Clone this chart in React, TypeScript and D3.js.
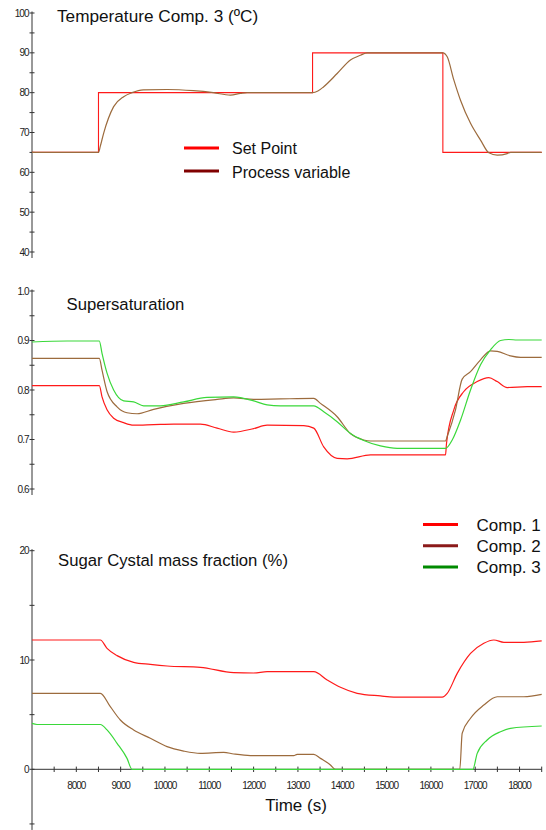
import * as d3 from "d3";

// --- data ---
const spTime = [7000, 8500, 8500, 13330, 13330, 16270, 16270, 18500];
const spValue = [65, 65, 80, 80, 90, 90, 65, 65];

const pvTime = [7000, 8500, 8540, 8616, 8842, 9068, 9257, 9512, 10047, 10641, 11093, 11476, 11702, 11853, 13330, 13450, 13582, 13885, 14185, 14411, 14562, 16270, 16368, 16517, 16668, 16894, 17120, 17307, 17497, 17723, 17797, 18500];
const pvValue = [65, 65, 66.5, 69.8, 76.5, 79, 80, 80.7, 80.8, 80.5, 80, 79.4, 79.8, 80, 80, 80.4, 81.5, 84.8, 88.2, 89.4, 90, 90, 89, 83.2, 78.1, 72.3, 68.1, 64.9, 64.3, 64.7, 65, 65];

const ss1Time = [7000, 8519, 8580, 8693, 8842, 9068, 9293, 9745, 10196, 10799, 11176, 11551, 12002, 12305, 13131, 13357, 13582, 13885, 14111, 14637, 15388, 16330, 16352, 16517, 16743, 17045, 17307, 17497, 17723, 18174, 18500];
const ss1Value = [0.809, 0.809, 0.786, 0.76, 0.743, 0.734, 0.729, 0.73, 0.731, 0.731, 0.723, 0.715, 0.722, 0.729, 0.728, 0.723, 0.685, 0.662, 0.661, 0.669, 0.669, 0.669, 0.692, 0.76, 0.797, 0.817, 0.825, 0.817, 0.805, 0.807, 0.807];

const ss2Time = [7000, 8519, 8580, 8693, 8919, 9144, 9370, 9745, 10422, 11176, 11551, 12002, 12605, 13357, 13508, 13885, 14185, 14485, 14637, 16330, 16368, 16555, 16706, 16894, 17120, 17345, 17497, 17797, 18023, 18500];
const ss2Value = [0.864, 0.864, 0.84, 0.797, 0.766, 0.754, 0.752, 0.761, 0.773, 0.781, 0.784, 0.781, 0.782, 0.783, 0.773, 0.746, 0.712, 0.699, 0.697, 0.697, 0.706, 0.76, 0.822, 0.837, 0.861, 0.879, 0.878, 0.869, 0.866, 0.866];

const ss3Time = [7000, 7790, 8519, 8580, 8693, 8842, 9068, 9293, 9519, 9896, 10422, 10950, 11551, 12002, 12305, 12605, 13357, 13582, 13885, 14185, 14485, 14862, 15239, 16330, 16481, 16668, 16894, 17120, 17345, 17571, 17760, 17948, 18500];
const ss3Value = [0.897, 0.899, 0.899, 0.874, 0.834, 0.8, 0.778, 0.776, 0.768, 0.768, 0.776, 0.785, 0.786, 0.778, 0.77, 0.768, 0.768, 0.756, 0.736, 0.712, 0.698, 0.687, 0.682, 0.682, 0.699, 0.739, 0.8, 0.851, 0.881, 0.9, 0.902, 0.901, 0.901];

const mf1Time = [7000, 8542, 8693, 8919, 9293, 9670, 10047, 10799, 11551, 12002, 12305, 13357, 13659, 13959, 14336, 14862, 15162, 16255, 16368, 16594, 16894, 17194, 17420, 17646, 18097, 18500];
const mf1Value = [11.83, 11.83, 11.07, 10.4, 9.79, 9.6, 9.45, 9.33, 8.84, 8.81, 8.93, 8.93, 8.17, 7.5, 6.95, 6.71, 6.61, 6.61, 6.95, 8.78, 10.6, 11.53, 11.83, 11.62, 11.62, 11.75];

const mf2Time = [7000, 8542, 8767, 8993, 9293, 9670, 10047, 10422, 10799, 11325, 11551, 11928, 12905, 12982, 13357, 13508, 13733, 13846, 16652, 16706, 16894, 17194, 17497, 18097, 18500];
const mf2Value = [6.95, 6.95, 5.73, 4.51, 3.6, 2.84, 2.07, 1.67, 1.46, 1.55, 1.4, 1.25, 1.25, 1.37, 1.37, 1.0, 0.4, 0, 0, 3.3, 4.67, 5.88, 6.64, 6.64, 6.86];

const mf3Time = [7000, 7113, 8542, 8693, 8919, 9144, 9257, 16946, 17045, 17270, 17571, 17797, 18500];
const mf3Value = [4.2, 4.1, 4.1, 3.6, 2.38, 1.0, 0, 0, 1.46, 2.68, 3.44, 3.75, 3.96];

const xMajor = [8000, 9000, 10000, 11000, 12000, 13000, 14000, 15000, 16000, 17000, 18000];
const tempMajor = [40, 50, 60, 70, 80, 90, 100];
const ssMajor = [0.6, 0.7, 0.8, 0.9, 1.0];
const mfMajor = [0, 10, 20];

const FONT = "'Liberation Sans', Arial, sans-serif";
const RED = "#ff1a1a";
const BROWN = "#9c6b3d";
const GREEN = "#3ad83a";
const AXIS = "#333";

const x = d3.scaleLinear().domain([7000, 18500]).range([32, 541.7]);
const yTemp = d3.scaleLinear().domain([40, 100]).range([252, 13]);
const ySS = d3.scaleLinear().domain([0.6, 1.0]).range([489, 291]);
const yMF = d3.scaleLinear().domain([0, 20]).range([769.3, 550.7]);

function path(ts: number[], vs: number[], y: d3.ScaleLinear<number, number>, smooth = true) {
  const line = d3
    .line<number>()
    .x((_, i) => x(ts[i]))
    .y((v) => y(v))
    .curve(smooth ? d3.curveMonotoneX : d3.curveLinear);
  return line(vs) ?? "";
}

function YAxis({
  y,
  major,
  step,
  from,
  to,
  fmt,
}: {
  y: d3.ScaleLinear<number, number>;
  major: number[];
  step: number;
  from: number;
  to: number;
  fmt: (v: number) => string;
}) {
  const minor = d3.range(from, to + step / 2, step).map((v) => +v.toFixed(4));
  const [top, bottom] = [y(to) - 1.5, y(from) + 6];
  return (
    <g>
      <line x1={32} x2={32} y1={top} y2={bottom} stroke={AXIS} strokeWidth={1} />
      {minor.map((v) => (
        <line key={"m" + v} x1={29.5} x2={34.5} y1={y(v)} y2={y(v)} stroke={AXIS} strokeWidth={1} />
      ))}
      {major.map((v) => (
        <text
          key={v}
          x={28.5}
          y={y(v) + 3.5}
          textAnchor="end"
          fontSize={10}
          letterSpacing={-1}
          fontFamily={FONT}
          fill="#222"
        >
          {fmt(v)}
        </text>
      ))}
    </g>
  );
}

export default function App() {
  const xMinor = d3.range(7500, 18501, 500);
  const y0 = yMF(0);
  return (
    <svg
      width={546}
      height={830}
      style={{ position: "absolute", left: 0, top: 0, background: "#fff" }}
    >
      {/* panel 1: temperature */}
      <YAxis y={yTemp} major={tempMajor} step={5} from={40} to={100} fmt={(v) => String(v)} />
      <text x={57} y={22} fontSize={17.2} fontFamily={FONT} fill="#111">
        Temperature Comp. 3 (ºC)
      </text>
      <path d={path(spTime, spValue, yTemp, false)} fill="none" stroke={RED} strokeWidth={1.1} />
      <path d={path(pvTime, pvValue, yTemp)} fill="none" stroke={BROWN} strokeWidth={1.2} />
      <line x1={184} x2={219} y1={148} y2={148} stroke="#ff0000" strokeWidth={3} />
      <text x={232} y={154} fontSize={16} fontFamily={FONT} fill="#111">
        Set Point
      </text>
      <line x1={184} x2={219} y1={171} y2={171} stroke="#800000" strokeWidth={3} />
      <text x={232} y={177.5} fontSize={16} fontFamily={FONT} fill="#111">
        Process variable
      </text>

      {/* panel 2: supersaturation */}
      <YAxis y={ySS} major={ssMajor} step={0.05} from={0.6} to={1.0} fmt={d3.format(".1f")} />
      <text x={66.5} y={309.5} fontSize={16.7} fontFamily={FONT} fill="#111">
        Supersaturation
      </text>
      <path d={path(ss1Time, ss1Value, ySS)} fill="none" stroke={RED} strokeWidth={1.2} />
      <path d={path(ss2Time, ss2Value, ySS)} fill="none" stroke={BROWN} strokeWidth={1.2} />
      <path d={path(ss3Time, ss3Value, ySS)} fill="none" stroke={GREEN} strokeWidth={1.2} />

      {/* panel 3: crystal mass fraction */}
      <YAxis y={yMF} major={mfMajor} step={5} from={-5} to={20} fmt={(v) => String(v)} />
      <line x1={32} x2={541.7} y1={y0} y2={y0} stroke={AXIS} strokeWidth={1} />
      {xMinor.map((t) => (
        <line key={t} x1={x(t)} x2={x(t)} y1={y0 - 2.7} y2={y0 + 2.7} stroke={AXIS} strokeWidth={1} />
      ))}
      {xMajor.map((t) => (
        <text
          key={t}
          x={x(t)}
          y={y0 + 19.5}
          textAnchor="middle"
          fontSize={10}
          letterSpacing={-1}
          fontFamily={FONT}
          fill="#222"
        >
          {String(t)}
        </text>
      ))}
      <text x={296} y={811} textAnchor="middle" fontSize={17} fontFamily={FONT} fill="#111">
        Time (s)
      </text>
      <text x={58} y={566} fontSize={16.7} fontFamily={FONT} fill="#111">
        Sugar Cystal mass fraction (%)
      </text>
      <path d={path(mf1Time, mf1Value, yMF)} fill="none" stroke={RED} strokeWidth={1.2} />
      <path d={path(mf2Time, mf2Value, yMF)} fill="none" stroke={BROWN} strokeWidth={1.2} />
      <path d={path(mf3Time, mf3Value, yMF)} fill="none" stroke={GREEN} strokeWidth={1.2} />

      {[
        { label: "Comp. 1", color: "#ff0000" },
        { label: "Comp. 2", color: "#8b1a1a" },
        { label: "Comp. 3", color: "#008a00" },
      ].map((d, i) => (
        <g key={d.label}>
          <line x1={423} x2={458} y1={524.5 + i * 21.3} y2={524.5 + i * 21.3} stroke={d.color} strokeWidth={3} />
          <text x={476.5} y={530.5 + i * 21.3} fontSize={17} fontFamily={FONT} fill="#111">
            {d.label}
          </text>
        </g>
      ))}
    </svg>
  );
}
